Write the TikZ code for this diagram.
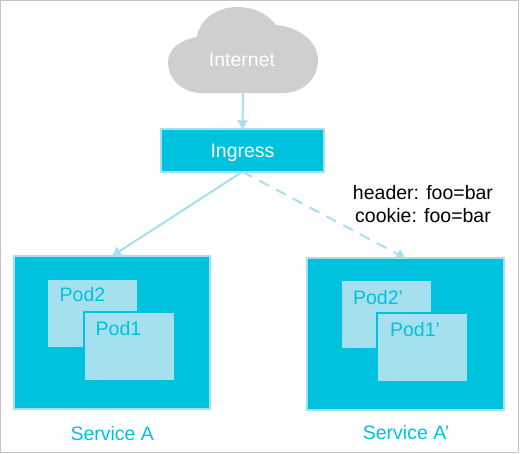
\documentclass[tikz,border=0pt]{standalone}
\usepackage{fontspec}
\setmainfont{Liberation Sans}
\usetikzlibrary{arrows.meta}
\definecolor{svccyan}{HTML}{00C1DE}
\definecolor{svclight}{HTML}{A5E0EF}
\definecolor{cloudgray}{HTML}{CFCFCF}
\definecolor{framegray}{HTML}{C4C4C4}
\tikzset{
	txt/.style={font=\fontsize{19.5}{23}\selectfont,inner sep=0pt,outer sep=0pt},
	service/.style={draw=svclight,fill=svccyan,line width=2pt,inner sep=0pt,outer sep=0pt},
	pod/.style={draw=svccyan,fill=svclight,line width=2pt,minimum width=91pt,minimum height=69pt,inner sep=0pt},
	svctxt/.style={txt,svccyan,anchor=base},
	link/.style={draw=svclight,line width=2pt,-{Triangle[width=10pt,length=9pt]}}
}
\begin{document}
\begin{tikzpicture}[x=1pt,y=-1pt]
		\useasboundingbox (0,0) rectangle (520,453);
		% frame
		\draw[framegray,line width=1pt] (0.5,0.5) rectangle (518.5,452.5);
		% cloud
		\fill[cloudgray] (168,62) .. controls (168,49) and (180,40) .. (197,37)
			.. controls (200,18) and (218,7) .. (237,7)
			.. controls (254,7) and (268,14) .. (276,25)
			.. controls (300,27) and (318,42) .. (318,60)
			.. controls (318,79) and (303,93) .. (283,93)
			-- (202,93) .. controls (182,93) and (168,79) .. (168,62) -- cycle;
		\node[txt,white,anchor=base] (internet) at (242,66.7) {Internet};
		\coordinate (cloudbottom) at (243,93);
		% ingress
		\node[service,minimum width=163pt,minimum height=42.4pt,text=white,font=\fontsize{19.5}{23}\selectfont,text height=14pt,text depth=0pt] (ingress) at (242.5,150.5) {Ingress};
		% services
		\node[service,minimum width=196pt,minimum height=152.7pt] (svca) at (112,332.4) {};
		\node[service,minimum width=197pt,minimum height=151.4pt] (svcb) at (405.5,334) {};
		% pods of service A
		\node[pod] (podb) at (92.5,313.5) {};
		\node[pod] (poda) at (129.5,346.3) {};
		\node[svctxt] (podbtxt) at (82.5,301.7) {Pod2};
		\node[svctxt] (podatxt) at (118.5,335) {Pod1};
		% pods of service A'
		\node[pod] (podbb) at (386.5,314.3) {};
		\node[pod] (podab) at (422.5,347.3) {};
		\node[svctxt] (podbbtxt) at (378,304) {Pod2’};
		\node[svctxt] (podabtxt) at (415,336.7) {Pod1’};
		% service names
		\node[svctxt] (svcatxt) at (112.3,440.7) {Service A};
		\node[svctxt] (svcbtxt) at (406,439.3) {Service A’};
		% match rule
		\node[txt,align=center] (rule) at (423,204.5) {header: foo=bar\\cookie: foo=bar};
		% links
		\draw[link] (cloudbottom) -- (ingress.north);
		\draw[link] (ingress.south) -- (svca.north);
		\draw[link,dash pattern=on 11pt off 8pt] (ingress.south) -- (svcb.north);
	\end{tikzpicture}
\end{document}
